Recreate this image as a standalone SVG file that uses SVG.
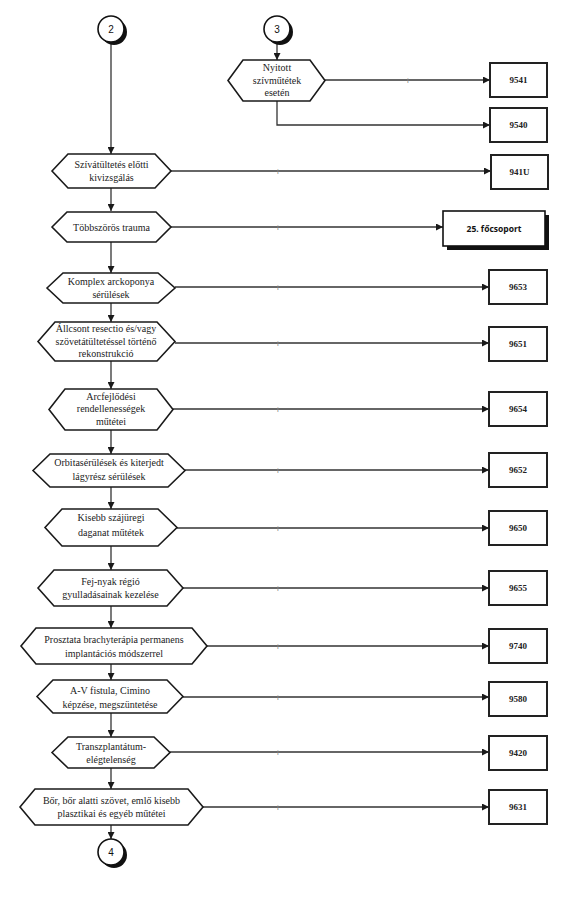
<svg xmlns="http://www.w3.org/2000/svg" width="563" height="897" viewBox="0 0 563 897">
<defs>
<marker id="ah" viewBox="0 0 10 10" refX="10" refY="5" markerWidth="7" markerHeight="7" markerUnits="userSpaceOnUse" orient="auto"><path d="M0,0 L10,5 L0,10 z" fill="#1a1a1a"/></marker>
</defs>
<style>
.hex{fill:#fff;stroke:#1a1a1a;stroke-width:1.6}
.box{fill:#fff;stroke:#222;stroke-width:2}
.ln{fill:none;stroke:#333;stroke-width:1.3}
.ht{font-family:"Liberation Serif","Times New Roman",serif;font-size:10px;fill:#222;text-anchor:middle}
.bt{font-family:"Liberation Serif","Times New Roman",serif;font-size:9px;font-weight:bold;fill:#222;text-anchor:middle}
.ct{font-family:"Liberation Sans",Arial,sans-serif;font-size:10px;fill:#111;text-anchor:middle}
.mk{font-family:"Liberation Sans",Arial,sans-serif;font-size:8px;fill:#888;text-anchor:middle}
</style>
<rect width="563" height="897" fill="#fff"/>

<g id="connectors">
<line class="ln" x1="111" y1="42" x2="111" y2="154" marker-end="url(#ah)"/>
<line class="ln" x1="277" y1="42" x2="277" y2="60" marker-end="url(#ah)"/>
<line class="ln" x1="325" y1="80" x2="490" y2="80" marker-end="url(#ah)"/>
<polyline class="ln" points="277,101 277,125 490,125" marker-end="url(#ah)"/>
<line class="ln" x1="171" y1="171" x2="491" y2="171" marker-end="url(#ah)"/>
<line class="ln" x1="111" y1="188" x2="111" y2="211" marker-end="url(#ah)"/>
<line class="ln" x1="171" y1="227" x2="443" y2="227" marker-end="url(#ah)"/>
<line class="ln" x1="111" y1="242" x2="111" y2="273" marker-end="url(#ah)"/>
<line class="ln" x1="175" y1="287" x2="489" y2="287" marker-end="url(#ah)"/>
<line class="ln" x1="111" y1="303" x2="111" y2="322" marker-end="url(#ah)"/>
<line class="ln" x1="175" y1="343" x2="489" y2="343" marker-end="url(#ah)"/>
<line class="ln" x1="111" y1="361" x2="111" y2="389" marker-end="url(#ah)"/>
<line class="ln" x1="173" y1="409" x2="489" y2="409" marker-end="url(#ah)"/>
<line class="ln" x1="111" y1="430" x2="111" y2="454" marker-end="url(#ah)"/>
<line class="ln" x1="185" y1="470" x2="489" y2="470" marker-end="url(#ah)"/>
<line class="ln" x1="111" y1="487" x2="111" y2="509" marker-end="url(#ah)"/>
<line class="ln" x1="177" y1="528" x2="489" y2="528" marker-end="url(#ah)"/>
<line class="ln" x1="111" y1="546" x2="111" y2="570" marker-end="url(#ah)"/>
<line class="ln" x1="183" y1="588" x2="489" y2="588" marker-end="url(#ah)"/>
<line class="ln" x1="111" y1="606" x2="111" y2="628" marker-end="url(#ah)"/>
<line class="ln" x1="207" y1="646" x2="489" y2="646" marker-end="url(#ah)"/>
<line class="ln" x1="111" y1="664" x2="111" y2="680" marker-end="url(#ah)"/>
<line class="ln" x1="183" y1="697" x2="489" y2="697" marker-end="url(#ah)"/>
<line class="ln" x1="111" y1="713" x2="111" y2="737" marker-end="url(#ah)"/>
<line class="ln" x1="170" y1="752" x2="489" y2="752" marker-end="url(#ah)"/>
<line class="ln" x1="111" y1="768" x2="111" y2="789" marker-end="url(#ah)"/>
<line class="ln" x1="203" y1="807" x2="489" y2="807" marker-end="url(#ah)"/>
<line class="ln" x1="111" y1="825" x2="111" y2="839" marker-end="url(#ah)"/>
<text class="mk" x="408" y="83">i</text>
<text class="mk" x="278" y="174">i</text>
<text class="mk" x="278" y="230">i</text>
<text class="mk" x="278" y="290">i</text>
<text class="mk" x="278" y="346">i</text>
<text class="mk" x="278" y="412">i</text>
<text class="mk" x="278" y="473">i</text>
<text class="mk" x="278" y="531">i</text>
<text class="mk" x="278" y="591">i</text>
<text class="mk" x="278" y="649">i</text>
<text class="mk" x="278" y="700">i</text>
<text class="mk" x="278" y="755">i</text>
<text class="mk" x="278" y="810">i</text>
</g>

<g id="c2"><circle cx="114" cy="32" r="13" fill="#111"/><circle cx="111" cy="29" r="13" fill="#fff" stroke="#111" stroke-width="1.6"/><text class="ct" x="111" y="32.5">2</text></g>
<g id="c3"><circle cx="280" cy="32" r="13" fill="#111"/><circle cx="277" cy="29" r="13" fill="#fff" stroke="#111" stroke-width="1.6"/><text class="ct" x="277" y="32.5">3</text></g>
<g id="c4"><circle cx="114" cy="855" r="13" fill="#111"/><circle cx="111" cy="852" r="13" fill="#fff" stroke="#111" stroke-width="1.6"/><text class="ct" x="111" y="855.5">4</text></g>

<g id="n-nyitott"><path class="hex" d="M228,80.5 L243,60 L310,60 L325,80.5 L310,101 L243,101 Z"/>
<text class="ht" x="277" y="71">Nyitott</text><text class="ht" x="277" y="83.5">szívműtétek</text><text class="ht" x="277" y="96">esetén</text></g>
<g id="b9541"><rect class="box" x="490" y="63" width="57" height="34"/><text class="bt" x="518.5" y="83">9541</text></g>
<g id="b9540"><rect class="box" x="490" y="108" width="57" height="34"/><text class="bt" x="518.5" y="128">9540</text></g>

<g id="n-sziv"><path class="hex" d="M52,171 L68,154 L155,154 L171,171 L155,188 L68,188 Z"/>
<text class="ht" x="111.5" y="168">Szívátültetés előtti</text><text class="ht" x="111.5" y="181">kivizsgálás</text></g>
<g id="b941U"><rect class="box" x="491" y="155" width="57" height="34"/><text class="bt" x="519.5" y="175">941U</text></g>

<g id="n-tobb"><path class="hex" d="M52,227 L67,212 L156,212 L171,227 L156,242 L67,242 Z"/>
<text class="ht" x="111.5" y="230.5">Többszörös trauma</text></g>
<g id="b25"><rect x="447" y="215" width="102" height="35" fill="#111"/><rect x="443" y="211" width="102" height="35" fill="#fff" stroke="#111" stroke-width="1.6"/><text x="494" y="232" font-family="'Open Sans','Liberation Sans',Arial,sans-serif" font-size="8.5" font-weight="bold" fill="#111" text-anchor="middle">25. főcsoport</text></g>

<g id="n-komplex"><path class="hex" d="M47,288 L63,273 L158,273 L175,288 L158,303 L63,303 Z"/>
<text class="ht" x="111" y="285">Komplex arckoponya</text><text class="ht" x="111" y="298">sérülések</text></g>
<g id="b9653"><rect class="box" x="489" y="270" width="58" height="34"/><text class="bt" x="518" y="290">9653</text></g>

<g id="n-allcsont"><path class="hex" d="M38,341.5 L55,322 L157,322 L175,341.5 L157,361 L55,361 Z"/>
<text class="ht" x="106" y="332">Állcsont resectio és/vagy</text><text class="ht" x="106" y="344.5">szövetátültetéssel történő</text><text class="ht" x="106" y="357">rekonstrukció</text></g>
<g id="b9651"><rect class="box" x="489" y="327" width="58" height="34"/><text class="bt" x="518" y="347">9651</text></g>

<g id="n-arcfejl"><path class="hex" d="M49,409.5 L65,389 L157,389 L173,409.5 L157,430 L65,430 Z"/>
<text class="ht" x="111" y="399.5">Arcfejlődési</text><text class="ht" x="111" y="412">rendellenességek</text><text class="ht" x="111" y="424.5">műtétei</text></g>
<g id="b9654"><rect class="box" x="489" y="392" width="58" height="34"/><text class="bt" x="518" y="412">9654</text></g>

<g id="n-orbita"><path class="hex" d="M33,470.5 L50,454 L168,454 L185,470.5 L168,487 L50,487 Z"/>
<text class="ht" x="109" y="466">Orbitasérülések és kiterjedt</text><text class="ht" x="109" y="480">lágyrész sérülések</text></g>
<g id="b9652"><rect class="box" x="489" y="453" width="58" height="34"/><text class="bt" x="518" y="473">9652</text></g>

<g id="n-kisebb"><path class="hex" d="M45,527.5 L62,509 L158,509 L177,527.5 L158,546 L62,546 Z"/>
<text class="ht" x="111" y="521">Kisebb szájüregi</text><text class="ht" x="111" y="536">daganat műtétek</text></g>
<g id="b9650"><rect class="box" x="489" y="511" width="58" height="34"/><text class="bt" x="518" y="531">9650</text></g>

<g id="n-fejnyak"><path class="hex" d="M38,588 L54,570 L167,570 L183,588 L167,606 L54,606 Z"/>
<text class="ht" x="110.5" y="584.5">Fej-nyak régió</text><text class="ht" x="110.5" y="598">gyulladásainak kezelése</text></g>
<g id="b9655"><rect class="box" x="489" y="571" width="58" height="34"/><text class="bt" x="518" y="591">9655</text></g>

<g id="n-prosztata"><path class="hex" d="M21,646 L36,628 L192,628 L207,646 L192,664 L36,664 Z"/>
<text class="ht" x="114" y="643">Prosztata brachyterápia permanens</text><text class="ht" x="114" y="656.5">implantációs módszerrel</text></g>
<g id="b9740"><rect class="box" x="489" y="629" width="58" height="34"/><text class="bt" x="518" y="649">9740</text></g>

<g id="n-av"><path class="hex" d="M37,696.5 L53,680 L167,680 L183,696.5 L167,713 L53,713 Z"/>
<text class="ht" x="110" y="694">A-V fistula, Cimino</text><text class="ht" x="110" y="708">képzése, megszüntetése</text></g>
<g id="b9580"><rect class="box" x="489" y="682" width="58" height="34"/><text class="bt" x="518" y="702">9580</text></g>

<g id="n-transz"><path class="hex" d="M52,752.5 L68,737 L154,737 L170,752.5 L154,768 L68,768 Z"/>
<text class="ht" x="111" y="749.5">Transzplantátum-</text><text class="ht" x="111" y="762.5">elégtelenség</text></g>
<g id="b9420"><rect class="box" x="489" y="736" width="58" height="34"/><text class="bt" x="518" y="756">9420</text></g>

<g id="n-bor"><path class="hex" d="M20,807 L35,789 L188,789 L203,807 L188,825 L35,825 Z"/>
<text class="ht" x="111.5" y="803.5">Bőr, bőr alatti szövet, emlő kisebb</text><text class="ht" x="111.5" y="817">plasztikai és egyéb műtétei</text></g>
<g id="b9631"><rect class="box" x="489" y="790" width="58" height="34"/><text class="bt" x="518" y="810">9631</text></g>
</svg>
